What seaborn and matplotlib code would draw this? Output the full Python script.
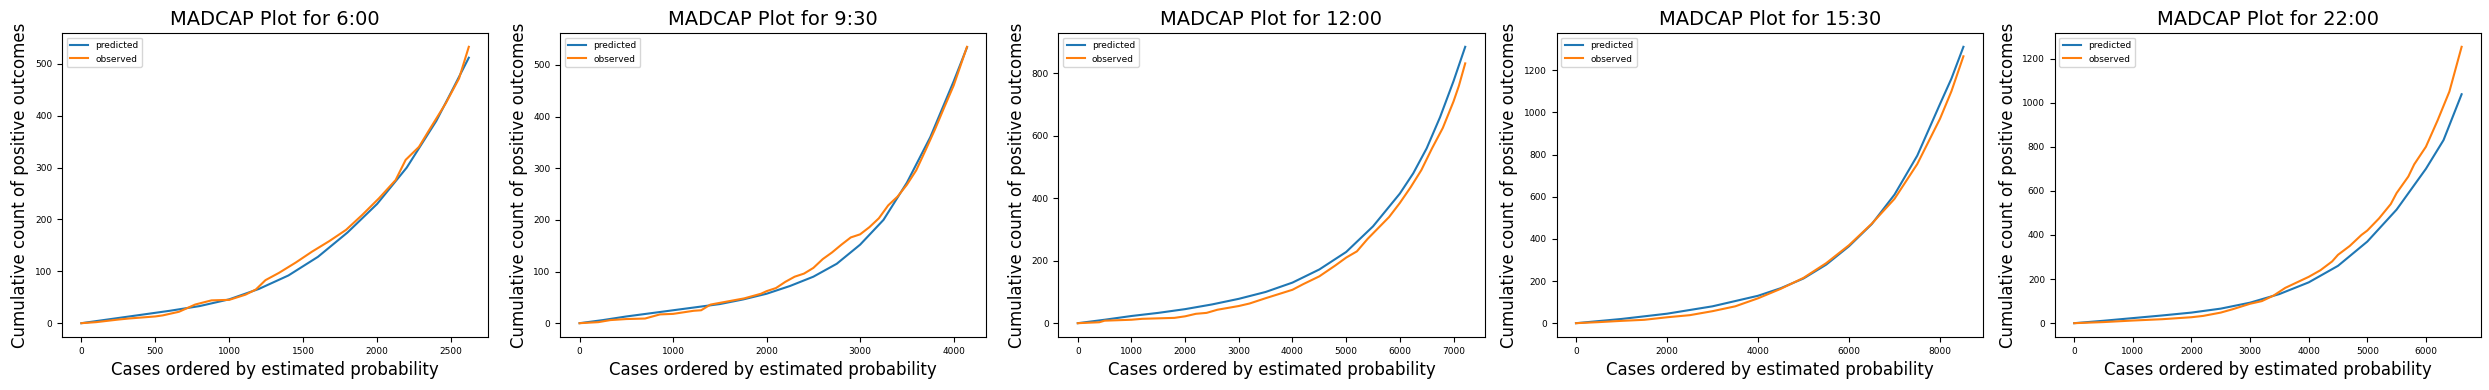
import numpy as np
import pandas as pd
import matplotlib
matplotlib.use("Agg")
import matplotlib.pyplot as plt
import seaborn as sns

titles = ["6:00", "9:30", "12:00", "15:30", "22:00"]

# --- 6:00 ---
pred_x_600 = [0, 200, 400, 600, 800, 1000, 1200, 1400, 1600, 1800, 2000, 2200, 2400, 2500, 2620]
pred_y_600 = [0, 8, 16, 24, 33, 46, 66, 92, 128, 175, 230, 300, 390, 445, 512]
obs_x_600 = [0, 100, 250, 320, 500, 550, 660, 770, 880, 1000, 1110, 1180, 1245, 1336,
             1450, 1560, 1675, 1790, 1900, 2013, 2125, 2193, 2283, 2351, 2464, 2554, 2620]
obs_y_600 = [0, 2, 7, 9, 13, 15, 22, 36, 44, 45, 55, 65, 83, 97,
             117, 138, 158, 180, 209, 241, 276, 315, 340, 372, 424, 472, 533]

# --- 9:30 ---
pred_x_930 = [0, 250, 500, 750, 1000, 1250, 1500, 1750, 2000, 2250, 2500, 2750, 3000,
              3250, 3500, 3750, 4000, 4143]
pred_y_930 = [0, 6, 13, 19, 25, 31, 37, 46, 57, 72, 90, 115, 152,
              200, 272, 360, 468, 534]
obs_x_930 = [0, 200, 330, 500, 700, 860, 1000, 1220, 1300, 1400, 1580, 1760, 1940, 2000,
             2100, 2200, 2300, 2400, 2500, 2600, 2700, 2800, 2900, 3000, 3100, 3200,
             3300, 3400, 3500, 3600, 3700, 3800, 3900, 4000, 4143]
obs_y_930 = [0, 2, 6, 8, 9, 17, 18, 24, 25, 36, 42, 48, 57, 62,
             68, 80, 90, 96, 107, 124, 137, 152, 166, 172, 186, 203,
             228, 245, 268, 296, 335, 375, 418, 460, 535]

# --- 12:00 ---
pred_x_1200 = [0, 500, 1000, 1500, 2000, 2500, 3000, 3500, 4000, 4500, 5000, 5500,
               6000, 6250, 6500, 6750, 7000, 7218]
pred_y_1200 = [0, 11, 23, 33, 45, 60, 78, 100, 130, 172, 228, 310,
               415, 480, 560, 660, 775, 885]
obs_x_1200 = [0, 400, 500, 1000, 1200, 1800, 2000, 2200, 2400, 2600, 3000, 3200, 3500,
              4000, 4200, 4500, 4800, 5000, 5200, 5400, 5600, 5800, 6000, 6200, 6400,
              6600, 6800, 7000, 7100, 7218]
obs_y_1200 = [0, 3, 8, 11, 14, 17, 22, 30, 33, 43, 55, 63, 80,
              107, 125, 150, 185, 210, 230, 270, 305, 340, 385, 435, 490,
              560, 625, 710, 760, 832]

# --- 15:30 ---
pred_x_1530 = [0, 1000, 2000, 3000, 4000, 4500, 5000, 5500, 6000, 6500, 7000, 7500,
               8000, 8250, 8514]
pred_y_1530 = [0, 20, 45, 80, 130, 166, 212, 278, 365, 470, 610, 795,
               1040, 1160, 1311]
obs_x_1530 = [0, 500, 1000, 1500, 2000, 2500, 3000, 3500, 4000, 4500, 5000, 5500, 6000,
              6500, 7000, 7500, 8000, 8250, 8514]
obs_y_1530 = [0, 5, 11, 16, 28, 38, 57, 80, 118, 163, 215, 285, 370,
              472, 590, 755, 970, 1100, 1266]

# --- 22:00 ---
pred_x_2200 = [0, 500, 1000, 1500, 2000, 2500, 3000, 3500, 4000, 4500, 5000, 5500,
               6000, 6300, 6609]
pred_y_2200 = [0, 11, 23, 35, 48, 66, 93, 132, 185, 260, 370, 515,
               700, 830, 1038]
obs_x_2200 = [0, 500, 1000, 1500, 2000, 2200, 2500, 2700, 3000, 3200, 3400, 3600,
              3800, 4000, 4200, 4400, 4500, 4700, 4900, 5000, 5200, 5400, 5500,
              5700, 5800, 6000, 6200, 6400, 6609]
obs_y_2200 = [0, 5, 12, 18, 27, 33, 48, 63, 88, 100, 125, 160,
              185, 210, 240, 280, 310, 350, 400, 420, 475, 540, 590,
              665, 720, 800, 920, 1050, 1253]

panels = [
    (pred_x_600, pred_y_600, obs_x_600, obs_y_600),
    (pred_x_930, pred_y_930, obs_x_930, obs_y_930),
    (pred_x_1200, pred_y_1200, obs_x_1200, obs_y_1200),
    (pred_x_1530, pred_y_1530, obs_x_1530, obs_y_1530),
    (pred_x_2200, pred_y_2200, obs_x_2200, obs_y_2200),
]

plt.rcParams['font.family'] = ['DejaVu Sans']
fig, axes = plt.subplots(1, 5, figsize=(24.89, 3.90), dpi=100)
fig.subplots_adjust(left=62/2489, right=2481/2489, top=1-33/390, bottom=1-337/390,
                    wspace=72/426)

for ax, title, (px, py, ox, oy) in zip(axes, titles, panels):
    sns.lineplot(x=px, y=py, ax=ax, color="#1f77b4", label="predicted", linewidth=1.5)
    sns.lineplot(x=ox, y=oy, ax=ax, color="#ff7f0e", label="observed", linewidth=1.5)
    ax.set_title(f"MADCAP Plot for {title}", fontsize=14)
    ax.set_xlabel("Cases ordered by estimated probability", fontsize=12)
    ax.set_ylabel("Cumulative count of positive outcomes", fontsize=12)
    ax.tick_params(labelsize=6.5)
    ax.legend(loc="upper left", fontsize=6.5)

fig.savefig("out.png", dpi=100)
